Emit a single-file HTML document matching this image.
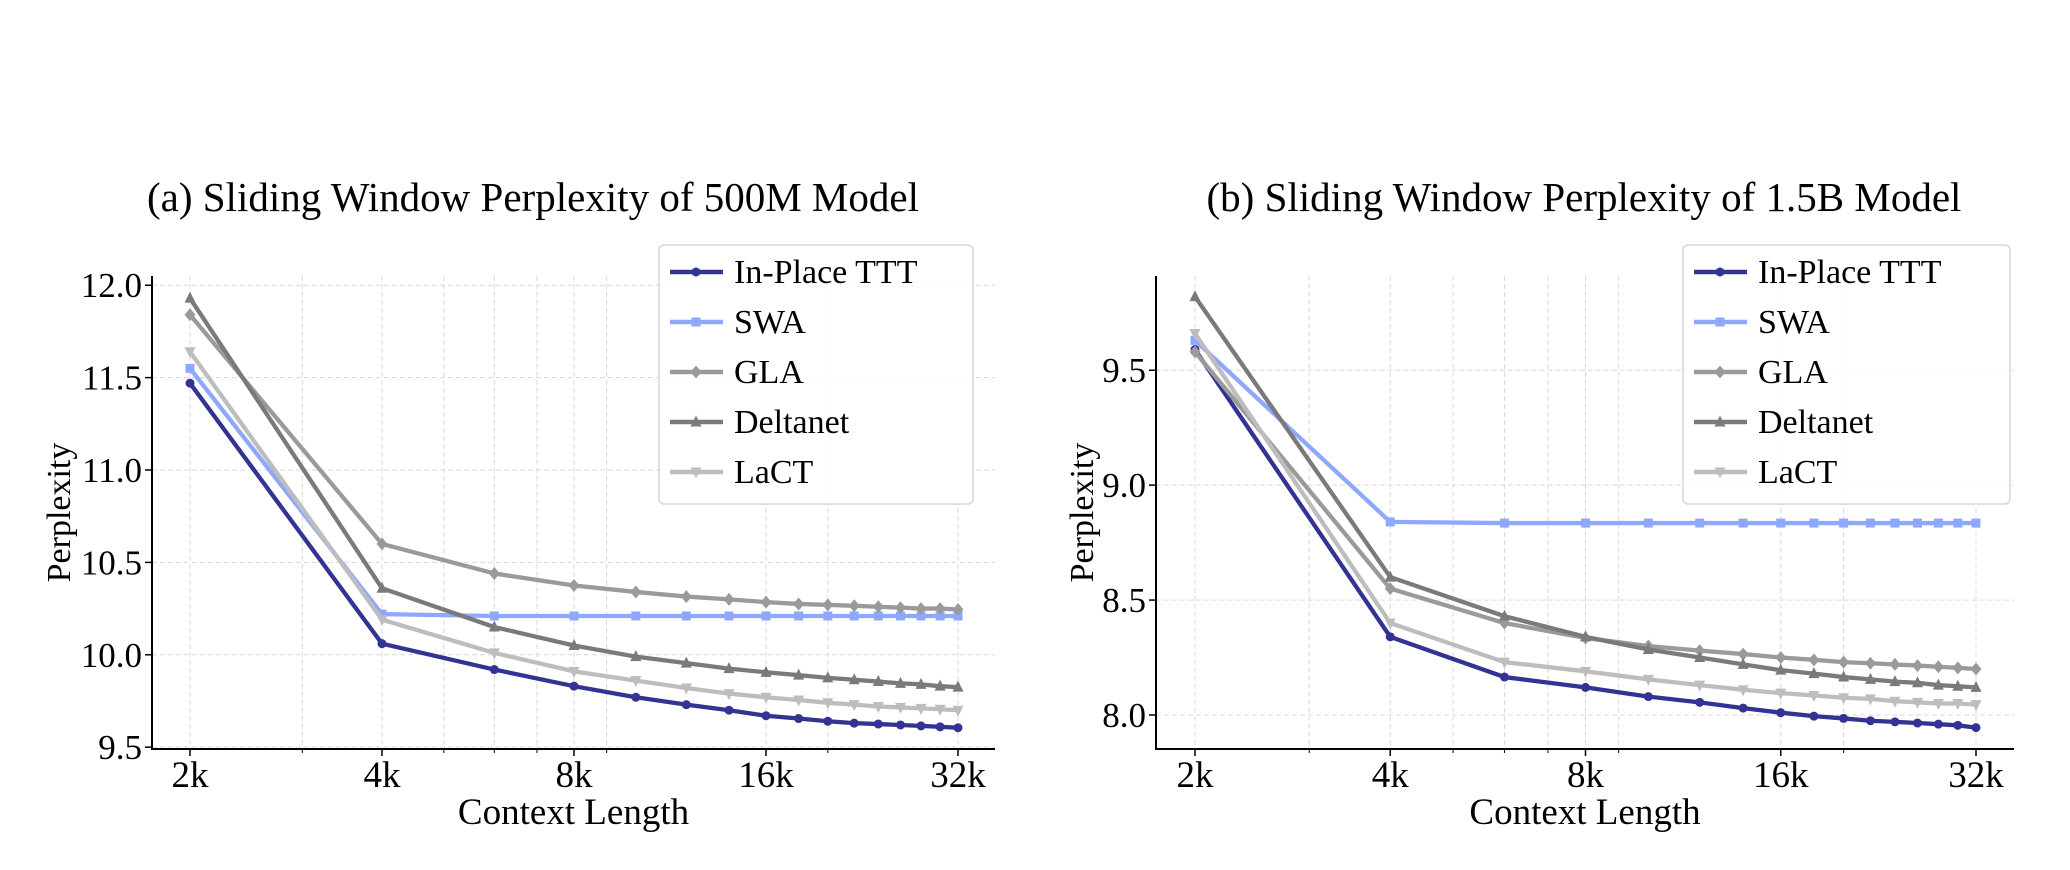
<!DOCTYPE html>
<html><head><meta charset="utf-8">
<style>
html,body{margin:0;padding:0;background:#fff;}
svg{display:block;font-family:"Liberation Serif",serif;}
</style></head>
<body>
<svg id="fig" width="2070" height="870" viewBox="0 0 2070 870" xmlns="http://www.w3.org/2000/svg"></svg>
<script>
const ctxLengths = [2,4,6,8,10,12,14,16,18,20,22,24,26,28,30,32];
const xTickVals = [2,4,8,16,32];
const xTickLabels = ["2k","4k","8k","16k","32k"];
const xMinorVals = [3,5,6,7,9,20];
const seriesNames = ["In-Place TTT","SWA","GLA","Deltanet","LaCT"];
const seriesColors = ["#333393","#8fa8ff","#9a9a9a","#7a7a7a","#bdbdbd"];
const seriesMarkers = ["circle","square","diamond","tri-up","tri-down"];
// Panel (a) 500M
const a_ttt = [11.47,10.06,9.92,9.83,9.77,9.73,9.70,9.67,9.655,9.64,9.63,9.625,9.62,9.615,9.61,9.605];
const a_swa = [11.55,10.22,10.21,10.21,10.21,10.21,10.21,10.21,10.21,10.21,10.21,10.21,10.21,10.21,10.21,10.21];
const a_gla = [11.84,10.60,10.44,10.375,10.34,10.315,10.30,10.285,10.275,10.27,10.265,10.26,10.255,10.25,10.25,10.245];
const a_delta = [11.93,10.36,10.15,10.05,9.99,9.955,9.925,9.905,9.89,9.875,9.865,9.855,9.845,9.84,9.83,9.825];
const a_lact = [11.64,10.19,10.01,9.91,9.86,9.82,9.79,9.77,9.755,9.74,9.73,9.72,9.715,9.71,9.705,9.70];
const a_yTicks = [9.5,10.0,10.5,11.0,11.5,12.0];
const a_yTickLabels = ["9.5","10.0","10.5","11.0","11.5","12.0"];
// Panel (b) 1.5B
const b_ttt = [9.59,8.34,8.165,8.12,8.08,8.055,8.03,8.01,7.995,7.985,7.975,7.97,7.965,7.96,7.955,7.945];
const b_swa = [9.63,8.84,8.835,8.835,8.835,8.835,8.835,8.835,8.835,8.835,8.835,8.835,8.835,8.835,8.835,8.835];
const b_gla = [9.58,8.55,8.40,8.335,8.30,8.28,8.265,8.25,8.24,8.23,8.225,8.22,8.215,8.21,8.205,8.20];
const b_delta = [9.82,8.60,8.43,8.34,8.285,8.25,8.22,8.195,8.18,8.165,8.155,8.145,8.14,8.13,8.125,8.12];
const b_lact = [9.66,8.40,8.23,8.19,8.155,8.13,8.11,8.095,8.085,8.075,8.07,8.06,8.055,8.05,8.05,8.045];
const b_yTicks = [8.0,8.5,9.0,9.5];
const b_yTickLabels = ["8.0","8.5","9.0","9.5"];

const NS = "http://www.w3.org/2000/svg";
const svg = document.getElementById("fig");
function mk(tag, attrs, parent){
  const e = document.createElementNS(NS, tag);
  for (const k in attrs) e.setAttribute(k, attrs[k]);
  (parent||svg).appendChild(e);
  return e;
}
function marker(g, type, x, y, c){
  const r = 5.5;
  if (type==="circle") return mk("circle",{cx:x,cy:y,r:4.5,fill:c},g);
  if (type==="square") return mk("rect",{x:x-4.5,y:y-4.5,width:9,height:9,fill:c},g);
  if (type==="diamond") return mk("polygon",{points:`${x},${y-r-1} ${x+r},${y} ${x},${y+r+1} ${x-r},${y}`,fill:c},g);
  if (type==="tri-up") return mk("polygon",{points:`${x},${y-r-1} ${x+r},${y+r-1} ${x-r},${y+r-1}`,fill:c},g);
  return mk("polygon",{points:`${x},${y+r+1} ${x+r},${y-r+1} ${x-r},${y-r+1}`,fill:c},g);
}

function panel(cfg){
  const g = mk("g",{});
  
  
  const xs = v => cfg.x2k + Math.log2(v/2)*(cfg.x32k-cfg.x2k)/4;
  const ys = v => cfg.yBot + (v-cfg.yMin)/(cfg.yMax-cfg.yMin)*(cfg.yTop-cfg.yBot);
  const grid = mk("g",{stroke:"#d9d9d9","stroke-width":1,"stroke-dasharray":"5,3"},g);
  
  
  xTickVals.concat(xMinorVals).forEach(v=>mk("line",{x1:xs(v),x2:xs(v),y1:cfg.yTop,y2:cfg.yBot},grid));
  cfg.yTicks.forEach(v=>mk("line",{x1:cfg.left,x2:cfg.right,y1:ys(v),y2:ys(v)},grid));
  const ax = mk("path",{d:`M${cfg.left},${cfg.yTop} V${cfg.yBot} H${cfg.right}`,stroke:"#000","stroke-width":2,fill:"none"},g);
  
  
  xTickVals.forEach((v,i)=>{
    mk("line",{x1:xs(v),x2:xs(v),y1:cfg.yBot,y2:cfg.yBot+7,stroke:"#000","stroke-width":1.5},g);
    const t = mk("text",{x:xs(v),y:cfg.yBot+38,"text-anchor":"middle","font-size":37},g);
    t.textContent = xTickLabels[i];
    
    
  });
  xMinorVals.forEach(v=>mk("line",{x1:xs(v),x2:xs(v),y1:cfg.yBot,y2:cfg.yBot+4,stroke:"#000","stroke-width":1},g));
  cfg.yTicks.forEach((v,i)=>{
    mk("line",{x1:cfg.left-7,x2:cfg.left,y1:ys(v),y2:ys(v),stroke:"#000","stroke-width":1.5},g);
    const t = mk("text",{x:cfg.left-10,y:ys(v)+12,"text-anchor":"end","font-size":35},g);
    t.textContent = cfg.yTickLabels[i];
    
    
  });
  cfg.series.forEach((vals,si)=>{
    const sg = mk("g",{},g);
    
    
    const pts = vals.map((v,i)=>xs(ctxLengths[i])+","+ys(v)).join(" ");
    mk("polyline",{points:pts,fill:"none",stroke:seriesColors[si],"stroke-width":4.3,"stroke-linejoin":"round"},sg);
    vals.forEach((v,i)=>marker(sg,seriesMarkers[si],xs(ctxLengths[i]),ys(v),seriesColors[si]));
  });
  const title = mk("text",{x:cfg.titleX,y:211,"text-anchor":"middle","font-size":41},g);
  title.textContent = cfg.title;
  
  
  const xl = mk("text",{x:(cfg.left+cfg.right)/2,y:824,"text-anchor":"middle","font-size":37},g);
  xl.textContent = "Context Length";
  
  
  const yl = mk("text",{x:0,y:0,"text-anchor":"middle","font-size":34,transform:`translate(${cfg.ylX},${(cfg.yTop+cfg.yBot)/2}) rotate(-90)`},g);
  yl.textContent = "Perplexity";
  
  
  const lg = mk("g",{},g);
  
  
  mk("rect",{x:cfg.legX,y:245,width:cfg.legW,height:259,rx:5,fill:"#fff","fill-opacity":0.9,stroke:"#d6d6d6","stroke-width":1.5},lg);
  seriesNames.forEach((n,i)=>{
    const y = 272 + i*50;
    const e = mk("g",{},lg);
    
    
    mk("line",{x1:cfg.legX+11,x2:cfg.legX+64,y1:y,y2:y,stroke:seriesColors[i],"stroke-width":4.5},e);
    marker(e,seriesMarkers[i],cfg.legX+37,y,seriesColors[i]);
    const t = mk("text",{x:cfg.legX+75,y:y+11,"font-size":34},e);
    t.textContent = n;
  });
}

panel({name:"panel-a",title:"(a) Sliding Window Perplexity of 500M Model",titleX:533,
  left:152,right:995,x2k:190,x32k:958,yTop:276,yBot:749,yMin:9.49,yMax:12.05,ylX:70,
  yTicks:a_yTicks,yTickLabels:a_yTickLabels,legX:659,legW:314,
  series:[a_ttt,a_swa,a_gla,a_delta,a_lact]});
panel({name:"panel-b",title:"(b) Sliding Window Perplexity of 1.5B Model",titleX:1584,
  left:1156,right:2014,x2k:1195,x32k:1976,yTop:276,yBot:749,yMin:7.852,yMax:9.91,ylX:1093,
  yTicks:b_yTicks,yTickLabels:b_yTickLabels,legX:1683,legW:327,
  series:[b_ttt,b_swa,b_gla,b_delta,b_lact]});
</script>
</body></html>
